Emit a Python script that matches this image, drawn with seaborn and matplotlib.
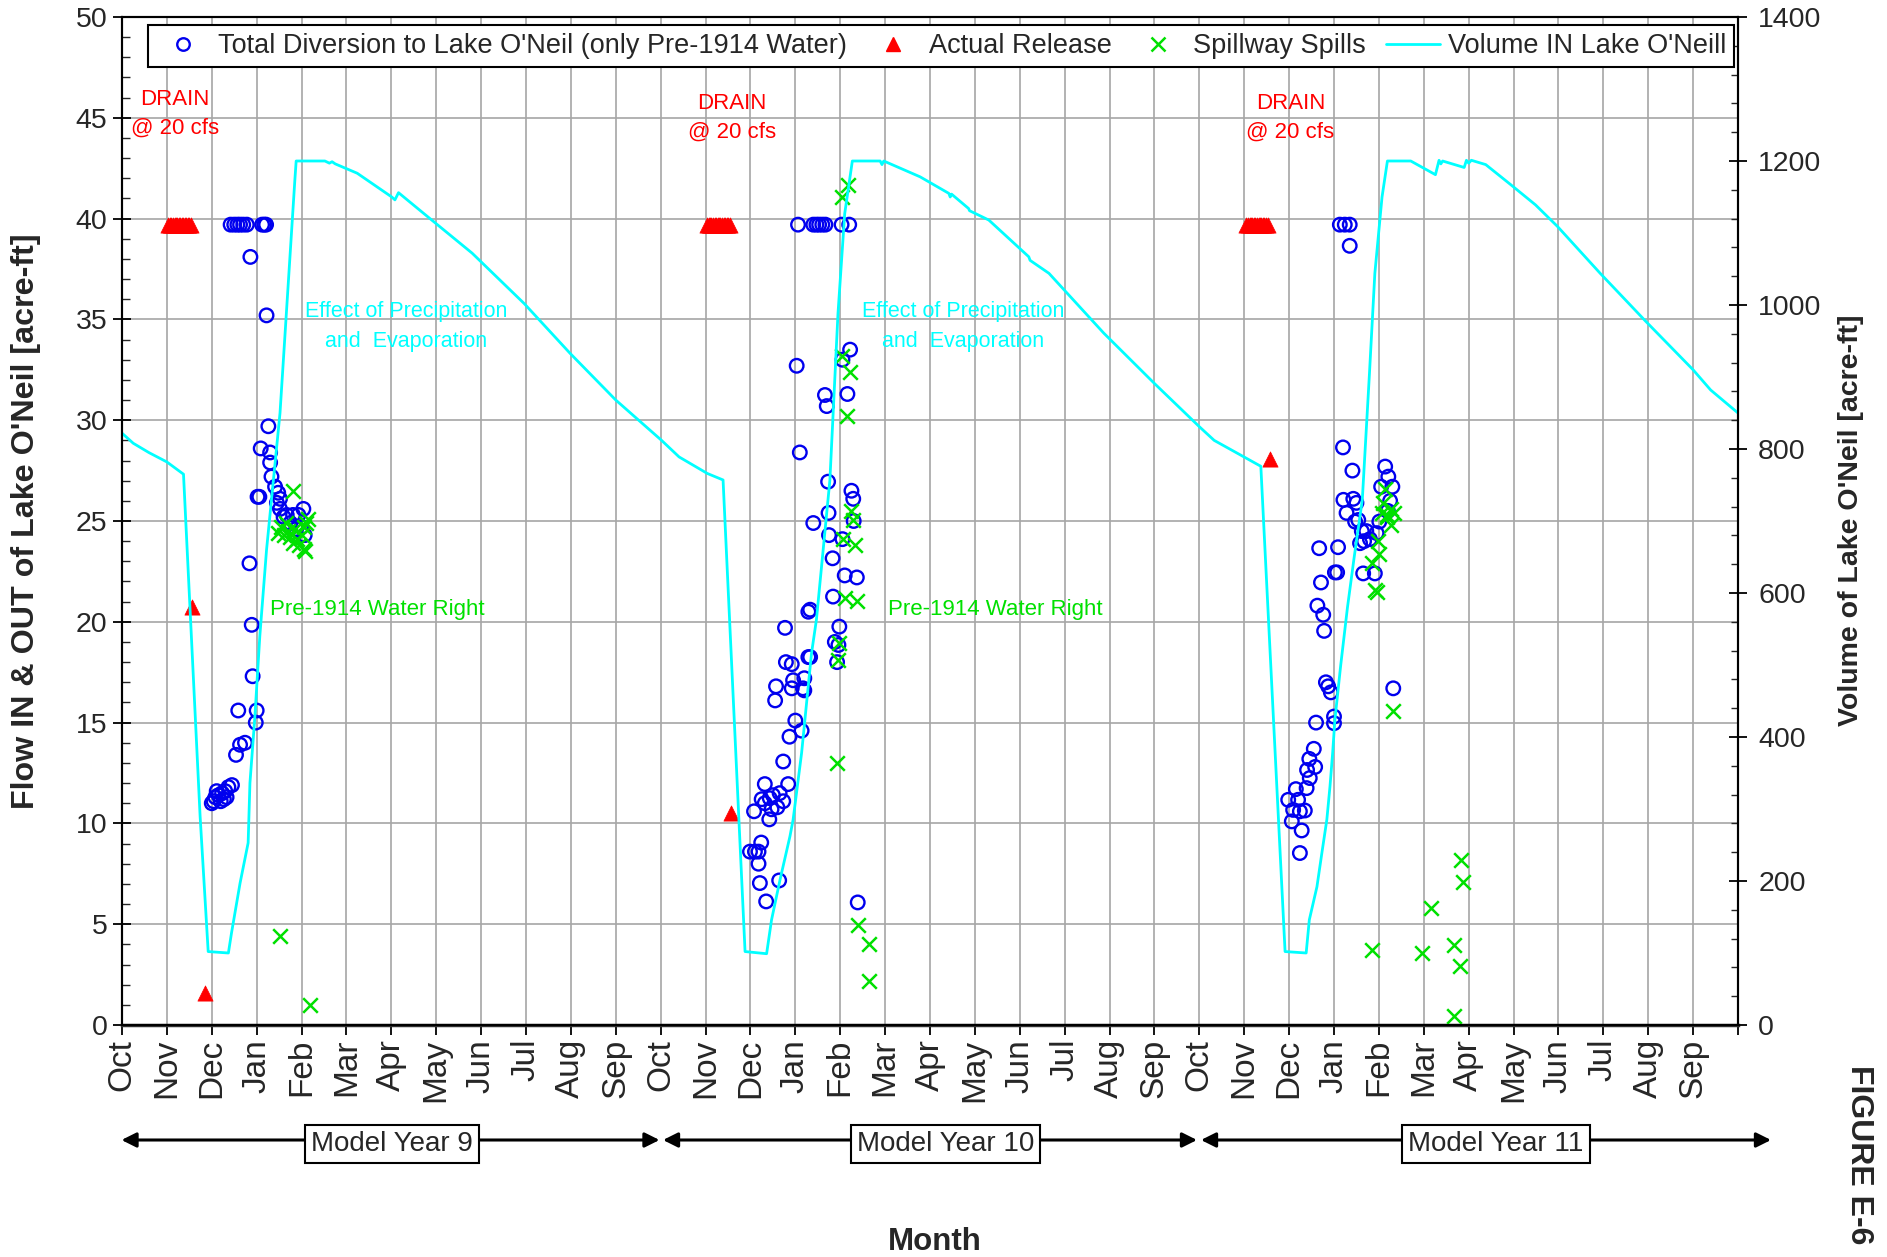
import numpy as np
import pandas as pd
import matplotlib
matplotlib.use("Agg")
import matplotlib.pyplot as plt
import seaborn as sns
from matplotlib.lines import Line2D
from matplotlib.ticker import MultipleLocator

# ---------------- data (x = months since Oct 1 of Model Year 9) ----------------
months = ["Oct", "Nov", "Dec", "Jan", "Feb", "Mar", "Apr", "May", "Jun", "Jul", "Aug", "Sep"]
month_labels = months * 3
model_years = ["Model Year 9", "Model Year 10", "Model Year 11"]

# Total Diversion to Lake O'Neil (blue circles)
div_month = [
    # Model Year 9
    2.42, 2.50, 2.57, 2.63, 2.70, 2.78, 3.12, 3.17, 3.21,
    2.86, 3.22, 3.26, 3.09, 3.30, 3.30, 3.33, 3.41, 3.02, 3.06, 3.48, 3.52, 3.52,
    3.45, 3.60, 3.67, 3.75, 3.81, 3.88, 3.93, 4.00, 4.04, 4.07,
    2.84, 2.89, 2.91, 2.59, 3.00, 2.98, 2.74, 2.63, 2.54,
    2.45, 2.37, 2.30, 2.23, 2.15, 2.08, 2.04, 2.00, 2.20, 2.27, 2.11, 2.33,
    # Model Year 10
    15.06, 15.40, 15.47, 15.53, 15.60, 15.67, 16.03, 16.20,
    16.22, 16.05, 15.03, 15.66, 15.70, 16.16, 15.10, 15.73, 16.25, 16.29, 15.74,
    15.40, 16.30, 15.75, 16.05, 15.83, 16.10, 16.37, 15.84, 15.33, 15.29, 14.77,
    15.98, 15.88, 15.96, 15.93, 14.79, 14.92, 15.29, 15.33, 14.57, 14.95, 15.20,
    14.92, 15.17, 15.20, 14.55, 15.00, 15.14, 14.87, 14.73, 14.32, 14.84, 14.25,
    14.32, 14.43, 14.50, 14.65, 14.73, 14.47, 14.60, 14.08, 14.42, 14.24, 13.99,
    14.10, 14.18, 14.18, 14.21, 14.64, 14.35, 16.39,
    # Model Year 11
    27.13, 27.24, 27.35, 27.35, 27.20, 27.41, 28.14, 28.21, 28.05, 28.30, 27.21,
    27.43, 27.50, 27.28, 27.47, 27.54, 28.01, 27.62, 27.72, 27.58, 27.67, 27.80,
    27.95, 28.25, 28.20, 26.67, 27.09, 27.02, 27.07, 27.65, 27.91, 26.71, 26.63,
    26.76, 26.78, 28.32, 26.82, 26.87, 26.93, 27.00, 27.00, 26.60, 26.55, 26.45,
    26.58, 26.40, 26.46, 26.39, 26.15, 25.98, 26.20, 26.09, 26.35, 26.24, 26.06,
    26.28, 26.24,
]
div_flow = [
    # Model Year 9
    39.7, 39.7, 39.7, 39.7, 39.7, 39.7, 39.7, 39.7, 39.7,
    38.1, 35.2, 29.7, 28.6, 28.4, 27.9, 27.2, 26.7, 26.2, 26.2, 26.4, 26.1, 25.6,
    25.9, 25.2, 25.3, 24.9, 25.3, 24.6, 25.3, 24.7, 25.6, 24.3,
    22.9, 19.85, 17.3, 15.6, 15.6, 15.0, 14.0, 13.9, 13.4,
    11.9, 11.8, 11.6, 11.5, 11.4, 11.3, 11.1, 11.0, 11.1, 11.2, 11.6, 11.3,
    # Model Year 10
    39.7, 39.7, 39.7, 39.7, 39.7, 39.7, 39.7, 39.7,
    33.5, 33.0, 32.7, 31.25, 30.7, 31.3, 28.4, 26.95, 26.5, 26.1, 25.4,
    24.9, 25.0, 24.3, 24.1, 23.15, 22.3, 22.2, 21.25, 20.6, 20.5, 19.7,
    19.76, 19.0, 18.85, 18.0, 18.0, 17.9, 18.25, 18.25, 16.8, 17.1, 17.2,
    16.7, 16.7, 16.6, 16.1, 15.1, 14.6, 14.3, 13.07, 11.95, 11.95, 11.2,
    11.0, 11.25, 11.4, 11.5, 11.1, 10.7, 10.8, 10.6, 10.2, 9.05, 8.6,
    8.6, 8.6, 8.0, 7.04, 7.17, 6.13, 6.08,
    # Model Year 11
    39.7, 39.7, 39.7, 38.65, 28.65, 27.5, 27.7, 27.2, 26.7, 26.7, 26.05,
    26.1, 25.9, 25.4, 24.97, 25.05, 24.97, 24.5, 24.5, 23.9, 24.0, 24.1,
    24.4, 26.0, 25.5, 23.65, 23.7, 22.45, 22.45, 22.4, 22.4, 21.95, 20.8,
    20.35, 19.55, 16.7, 17.0, 16.8, 16.5, 15.3, 14.97, 15.0, 13.7, 13.2,
    12.8, 12.65, 12.25, 11.75, 11.7, 11.17, 11.17, 10.67, 10.64, 10.6, 10.1,
    9.65, 8.53,
]

# Actual Release (red triangles)
rel_month = [
    1.03, 1.07, 1.10, 1.13, 1.17, 1.20, 1.23, 1.27, 1.30, 1.33, 1.37, 1.40, 1.43, 1.47, 1.50, 1.53,
    1.55, 1.85,
    13.03, 13.07, 13.10, 13.13, 13.17, 13.20, 13.23, 13.27, 13.30, 13.33, 13.37, 13.40, 13.43, 13.47, 13.50, 13.54,
    13.57,
    25.05, 25.08, 25.12, 25.15, 25.18, 25.22, 25.25, 25.28, 25.32, 25.35, 25.38, 25.42, 25.45, 25.48, 25.53,
    25.57,
]
rel_flow = [
    39.7, 39.7, 39.7, 39.7, 39.7, 39.7, 39.7, 39.7, 39.7, 39.7, 39.7, 39.7, 39.7, 39.7, 39.7, 39.7,
    20.75, 1.6,
    39.7, 39.7, 39.7, 39.7, 39.7, 39.7, 39.7, 39.7, 39.7, 39.7, 39.7, 39.7, 39.7, 39.7, 39.7, 39.7,
    10.5,
    39.7, 39.7, 39.7, 39.7, 39.7, 39.7, 39.7, 39.7, 39.7, 39.7, 39.7, 39.7, 39.7, 39.7, 39.7,
    28.1,
]

# Spillway Spills (green x)
spill_month = [
    # Model Year 9
    3.80, 3.48, 3.55, 3.60, 3.65, 3.70, 3.75, 3.80, 3.85, 3.90, 3.95, 4.00, 4.05, 4.10, 4.15, 4.08, 4.06,
    3.52, 4.19,
    # Model Year 10
    16.18, 16.03, 16.05, 16.22, 16.16, 16.25, 16.29, 16.06, 16.33, 16.10, 16.37, 15.98, 15.95, 15.93,
    16.39, 16.63, 16.65,
    # Model Year 11
    28.14, 28.10, 28.27, 28.07, 28.18, 28.33, 28.28, 28.18, 27.97, 28.00, 27.84, 27.91, 27.95,
    28.32, 29.84, 29.88, 29.15, 27.84, 28.97, 29.68, 29.81, 29.67,
]
spill_flow = [
    # Model Year 9
    26.5, 24.4, 24.7, 24.3, 24.9, 24.5, 24.2, 23.9, 24.6, 24.1, 23.8, 24.3, 23.6, 24.9, 25.1, 23.5, 24.7,
    4.43, 1.0,
    # Model Year 10
    41.66, 41.05, 33.2, 32.4, 30.2, 25.5, 25.05, 24.1, 23.8, 21.2, 21.05, 18.95, 18.1, 13.0,
    4.97, 4.03, 2.16,
    # Model Year 11
    26.6, 25.9, 25.6, 25.4, 25.3, 25.4, 24.8, 25.2, 24.0, 23.35, 22.9, 21.6, 21.5,
    15.6, 8.2, 7.1, 5.8, 3.73, 3.57, 3.98, 2.95, 0.43,
]

# Volume IN Lake O'Neill (cyan line, right axis)
vol_month = [
    0.00, 0.25, 0.60, 1.00, 1.37, 1.74, 1.92, 2.37, 2.44, 2.63, 2.81, 2.85, 2.96, 3.07,
    3.22, 3.52, 3.85, 3.88, 4.52, 4.62, 4.68, 4.75, 5.24, 6.01, 6.08, 6.16, 6.90, 7.80, 8.96,
    9.98, 11.00, 12.02, 12.41, 13.04, 13.39,
    13.88, 14.36, 14.47, 14.66, 14.88, 14.95, 15.14, 15.36, 15.47, 15.77, 15.95, 16.10,
    16.27, 16.89, 16.93, 16.97, 17.78, 18.42, 18.45, 18.48, 18.86, 18.88, 19.31, 20.20, 20.23,
    20.65, 21.87, 23.00, 24.00, 24.33, 25.37,
    25.91, 26.38, 26.45, 26.62, 26.73, 26.84, 26.91, 26.97, 27.02, 27.15, 27.30, 27.45,
    27.63, 27.79, 27.91, 28.07, 28.19, 28.71, 29.26, 29.34, 29.38, 29.42, 29.74, 29.90, 29.95,
    30.00, 30.06, 30.38, 30.94, 31.49, 31.98, 32.93, 33.95, 35.00, 35.39, 36.00,
]
vol_af = [
    822, 808, 795, 782, 765, 290, 102, 100, 128, 197, 253, 336, 428, 540,
    660, 850, 1173, 1200, 1200, 1197, 1199, 1196, 1183, 1150, 1146, 1156, 1118, 1072, 1002,
    933, 868, 812, 789, 766, 757,
    102, 99, 146, 202, 262, 285, 378, 516, 563, 757, 988, 1127,
    1200, 1200, 1195, 1200, 1178, 1155, 1150, 1154, 1134, 1131, 1118, 1067, 1062,
    1044, 961, 891, 831, 812, 776,
    102, 100, 146, 192, 239, 285, 331, 378, 424, 500, 580, 650,
    729, 905, 1044, 1150, 1200, 1200, 1181, 1201, 1196, 1200, 1194, 1191, 1201,
    1197, 1201, 1195, 1167, 1139, 1109, 1044, 977, 910, 882, 850,
]

div_df = pd.DataFrame({"month": div_month, "flow": div_flow})
rel_df = pd.DataFrame({"month": rel_month, "flow": rel_flow})
spill_df = pd.DataFrame({"month": spill_month, "flow": spill_flow})
vol_df = pd.DataFrame({"month": vol_month, "volume": vol_af})

# ---------------- styling ----------------
sns.set_theme(style="white")
plt.rcParams["font.family"] = ["Liberation Sans", "DejaVu Sans"]

W, H = 1887, 1257
fig = plt.figure(figsize=(W / 100, H / 100), dpi=100)
L, R, T, B = 122, 1738, 17, 1025
ax = fig.add_axes([L / W, 1 - B / H, (R - L) / W, (B - T) / H])
ax2 = ax.twinx()

BLUE = "#0000ee"
RED = "#ff0000"
GREEN = "#00e000"
CYAN = "#00ffff"
GRID = "#a6a6a6"

sns.scatterplot(data=div_df, x="month", y="flow", ax=ax, marker="o", s=95,
                facecolor="none", edgecolor=BLUE, linewidth=1.7, zorder=3, legend=False)
sns.scatterplot(data=rel_df, x="month", y="flow", ax=ax, marker="^", s=120,
                color=RED, edgecolor=RED, linewidth=0.5, zorder=4, legend=False)
sns.scatterplot(data=spill_df, x="month", y="flow", ax=ax, marker="x", s=110,
                color=GREEN, linewidth=1.8, zorder=5, legend=False)
sns.lineplot(data=vol_df, x="month", y="volume", ax=ax2, color=CYAN, linewidth=2.0,
             sort=False, estimator=None, legend=False)

# axes limits / ticks
ax.set_xlim(0, 36)
ax.set_ylim(0, 50)
ax2.set_ylim(0, 1400)
ax.set_xticks(np.arange(0, 37))
ax.set_xticklabels(month_labels + [""], rotation=90, fontsize=24)
ax.set_yticks(np.arange(0, 51, 5))
ax.yaxis.set_minor_locator(MultipleLocator(1))
ax2.set_yticks(np.arange(0, 1401, 200))
ax2.yaxis.set_minor_locator(MultipleLocator(40))
ax.tick_params(axis="y", which="major", direction="inout", length=13, width=1.3,
               labelsize=20.5, pad=4, color="black", left=True)
ax.tick_params(axis="y", which="minor", direction="in", length=6, width=1.0, left=True)
ax.tick_params(axis="x", which="major", direction="out", length=7, width=1.3,
               pad=3, color="black", bottom=True)
ax2.tick_params(axis="y", which="major", direction="inout", length=13, width=1.3,
                labelsize=20.5, pad=8, color="black", right=True)
ax2.tick_params(axis="y", which="minor", direction="in", length=5, width=1.0, right=True)

ax.grid(True, which="major", color=GRID, linewidth=1.2)
ax2.grid(False)
ax.set_axisbelow(True)
ax.set_xlabel("")
ax.set_ylabel("")
ax2.set_ylabel("")

for a in (ax, ax2):
    for s in a.spines.values():
        s.set_visible(True)
        s.set_color("black")
        s.set_linewidth(1.5)
ax.spines["bottom"].set_color("#333333")
ax.spines["bottom"].set_linewidth(2.5)

# annotations
for xm in (1.18, 13.59, 26.03):
    yt = 45.9 if xm < 2 else 45.7
    ax.text(xm, yt, "DRAIN", color=RED, fontsize=16, ha="center", va="center")
    ax.text(xm, yt - 1.4, "@ 20 cfs", color=RED, fontsize=16, ha="center", va="center")
for xm in (6.33, 18.74):
    ax.text(xm, 35.4, "Effect of Precipitation", color=CYAN, fontsize=15.5, ha="center", va="center")
    ax.text(xm, 33.9, "and  Evaporation", color=CYAN, fontsize=15.5, ha="center", va="center")
for xm in (5.68, 19.46):
    ax.text(xm, 20.6, "Pre-1914 Water Right", color=GREEN, fontsize=16, ha="center", va="center")

# legend
handles = [
    Line2D([], [], marker="o", linestyle="none", markerfacecolor="none",
           markeredgecolor=BLUE, markeredgewidth=1.7, markersize=9),
    Line2D([], [], marker="^", linestyle="none", color=RED, markersize=10),
    Line2D([], [], marker="x", linestyle="none", color=GREEN, markeredgewidth=1.8, markersize=10),
    Line2D([], [], color=CYAN, linewidth=2.0),
]
labels = ["Total Diversion to Lake O'Neil (only Pre-1914 Water)", "Actual Release",
          "Spillway Spills", "Volume IN Lake O'Neill"]
leg = ax2.legend(handles, labels, ncol=4, loc="upper center",
                 bbox_to_anchor=(941 / W, 1 - 25 / H), bbox_transform=fig.transFigure,
                 fontsize=19.5, frameon=True, fancybox=False, framealpha=1,
                 edgecolor="black", handlelength=2.0, handletextpad=0.3,
                 columnspacing=0.72, borderpad=0.3, borderaxespad=0)
leg.get_frame().set_linewidth(1.5)
leg.set_zorder(20)

# axis titles
fig.text(26 / W, 1 - 521 / H, "Flow IN & OUT of Lake O'Neil [acre-ft]", rotation=90,
         fontsize=23.2, fontweight="bold", ha="center", va="center")
fig.text(1851 / W, 1 - 520 / H, "Volume of Lake O'Neil [acre-ft]", rotation=90,
         fontsize=20.5, fontweight="bold", ha="center", va="center")
fig.text(935 / W, 1 - 1242 / H, "Month", fontsize=22.5, fontweight="bold",
         ha="center", va="center")
fig.text(1859 / W, 1 - 1155 / H, "FIGURE E-6", rotation=270, fontsize=23,
         fontweight="bold", ha="center", va="center")

# model-year arrows and boxes
arrow_y = 1 - 1140 / H
spans = [(121.5, 659.5), (663, 1197), (1201, 1771)]
centers = [391.7, 945.3, 1495.8]
for (x1, x2), xc, name in zip(spans, centers, model_years):
    fig.add_artist(matplotlib.patches.FancyArrowPatch(
        (x1 / W, arrow_y), (x2 / W, arrow_y), transform=fig.transFigure,
        arrowstyle="<|-|>", mutation_scale=22, color="black", linewidth=2.2,
        shrinkA=0, shrinkB=0))
    fig.text(xc / W, 1 - 1144 / H, name, fontsize=20, ha="center", va="center", zorder=10,
             bbox=dict(boxstyle="square,pad=0.22", facecolor="white", edgecolor="black",
                       linewidth=1.5))

fig.savefig("out.png", dpi=100)
